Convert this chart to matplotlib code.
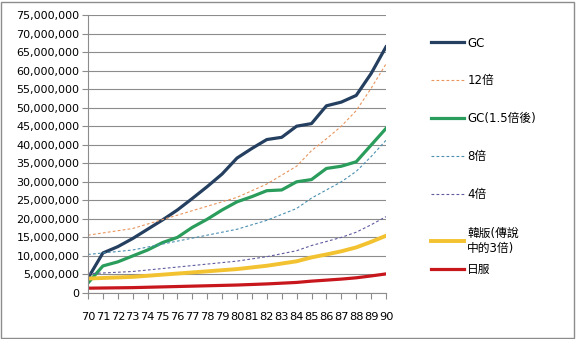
import matplotlib
matplotlib.use('Agg')
import matplotlib.pyplot as plt
from matplotlib.ticker import FuncFormatter, MultipleLocator
from matplotlib.patches import Rectangle

plt.rcParams['font.family'] = ['DejaVu Sans', 'Noto Sans CJK TC']

# years 70..90, values in millions
years = ['70', '71', '72', '73', '74', '75', '76', '77', '78', '79', '80',
         '81', '82', '83', '84', '85', '86', '87', '88', '89', '90']
gc = [4.0, 10.8, 12.5, 14.7, 17.2, 19.7, 22.4, 25.5, 28.7, 32.1, 36.4,
      39.0, 41.4, 42.0, 45.0, 45.7, 50.5, 51.5, 53.3, 59.2, 66.4]
x12 = [15.6, 16.2, 16.8, 17.4, 18.6, 19.8, 21.0, 22.2, 23.4, 24.6, 25.8,
       27.6, 29.4, 31.8, 34.2, 38.4, 41.6, 45.0, 49.2, 55.2, 61.8]
gc15 = [2.7, 7.3, 8.4, 10.0, 11.6, 13.6, 15.0, 17.7, 19.9, 22.4, 24.6,
        26.0, 27.6, 27.8, 30.0, 30.6, 33.6, 34.2, 35.4, 39.9, 44.4]
x8 = [10.4, 10.8, 11.2, 11.6, 12.4, 13.2, 14.0, 14.8, 15.6, 16.4, 17.2,
      18.4, 19.6, 21.2, 22.8, 25.6, 27.8, 30.0, 32.8, 36.8, 41.2]
x4 = [5.2, 5.4, 5.6, 5.8, 6.2, 6.6, 7.0, 7.4, 7.8, 8.2, 8.6,
      9.2, 9.8, 10.6, 11.4, 12.8, 13.9, 15.0, 16.4, 18.4, 20.6]
kr = [3.9, 4.05, 4.2, 4.35, 4.65, 4.95, 5.25, 5.55, 5.85, 6.15, 6.45,
      6.9, 7.35, 7.95, 8.55, 9.6, 10.4, 11.25, 12.3, 13.8, 15.45]
jp = [1.3, 1.35, 1.4, 1.45, 1.55, 1.65, 1.75, 1.85, 1.95, 2.05, 2.15,
      2.3, 2.45, 2.65, 2.85, 3.2, 3.47, 3.75, 4.1, 4.6, 5.15]

labels = ['GC', '12倍', 'GC(1.5倍後)', '8倍', '4倍', '韓版(傳說\n中的3倍)', '日服']

fig = plt.figure(figsize=(5.76, 3.39), dpi=100)
ax = fig.add_axes([88/576, 1-293/339, (386-88)/576, (293-15)/339])

x = list(range(len(years)))
M = 1e6
h = []
h += ax.plot(x, [v*M for v in gc], color='#243F60', lw=2.3)
h += ax.plot(x, [v*M for v in x12], color='#E8955E', lw=0.8, ls=(0, (2.5, 2)))
h += ax.plot(x, [v*M for v in gc15], color='#2A9D5C', lw=2.3)
h += ax.plot(x, [v*M for v in x8], color='#4A8FB0', lw=0.8, ls=(0, (2.5, 2)))
h += ax.plot(x, [v*M for v in x4], color='#5F5B9E', lw=0.8, ls=(0, (2.5, 2)))
h += ax.plot(x, [v*M for v in kr], color='#F2C230', lw=2.8)
h += ax.plot(x, [v*M for v in jp], color='#C8161D', lw=2.3)

ax.set_xlim(0, 20)
ax.set_ylim(0, 75e6)
ax.yaxis.set_major_locator(MultipleLocator(5e6))
ax.yaxis.set_major_formatter(FuncFormatter(lambda v, p: '{:,.0f}'.format(v)))
ax.set_xticks(x)
ax.set_xticklabels(years)
ax.grid(axis='y', color='#8C8C8C', lw=0.8)
ax.set_axisbelow(True)
for s in ['top', 'right']:
    ax.spines[s].set_visible(False)
for s in ['left', 'bottom']:
    ax.spines[s].set_color('#8C8C8C')
    ax.spines[s].set_linewidth(0.8)
ax.tick_params(axis='y', length=4, color='#8C8C8C', labelsize=8, pad=2)
ax.tick_params(axis='x', length=4, color='#8C8C8C', labelsize=8.2, pad=10)

leg1 = fig.legend(h[:5], labels[:5], loc='upper left', bbox_to_anchor=(420/576, 1-26/339),
                  frameon=False, fontsize=8.5, handlelength=2.8, handletextpad=0.3,
                  labelspacing=2.1)
leg2 = fig.legend(h[5:], labels[5:], loc='upper left', bbox_to_anchor=(420/576, 1-216/339),
                  frameon=False, fontsize=8.5, handlelength=2.8, handletextpad=0.3,
                  labelspacing=0.75)

fig.patches.append(Rectangle((1/576, 1/339), 573/576, 336/339, transform=fig.transFigure,
                             fill=False, edgecolor='#8C8C8C', lw=1))

fig.savefig('out.png', dpi=100)
